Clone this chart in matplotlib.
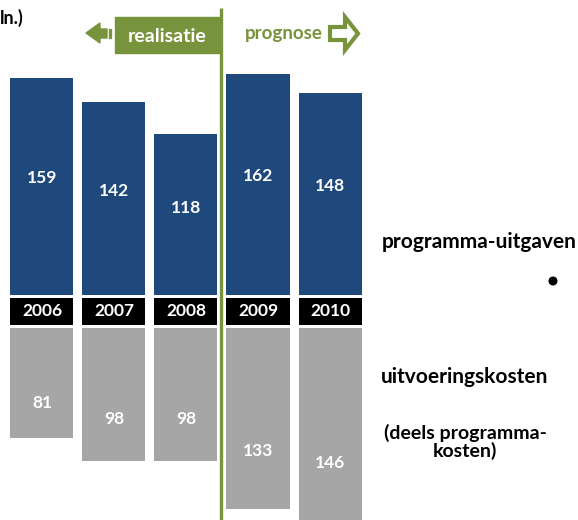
import matplotlib
matplotlib.use("Agg")
from matplotlib import pyplot as plt
from matplotlib.patches import Polygon, Circle, Rectangle

years = ["2006", "2007", "2008", "2009", "2010"]
programma_uitgaven = [159, 142, 118, 162, 148]
uitvoeringskosten = [81, 98, 98, 133, 146]

blue = "#1F497D"
grey = "#A6A6A6"
green = "#77933C"

plt.rcParams["font.family"] = ["Lato", "DejaVu Sans"]

fig = plt.figure(figsize=(5.78, 5.2), dpi=100)
ax = fig.add_axes([0, 0, 1, 1])
ax.set_xlim(-0.583, 7.444)
ax.set_ylim(-165.2, 216.6)
ax.axis("off")

x = range(len(years))
w = 0.875
gap_top = -2.2      # top of year strip
gap_bottom = -22.0  # bottom of year strip
grey_top = -24.2

ax.bar(x, programma_uitgaven, width=w, color=blue)
ax.bar(x, [gap_bottom - gap_top] * len(years), bottom=gap_top, width=w, color="black")
ax.bar(x, [-v for v in uitvoeringskosten], bottom=grey_top, width=w, color=grey)

for i, (y, p, u) in enumerate(zip(years, programma_uitgaven, uitvoeringskosten)):
    ax.text(i, (gap_top + gap_bottom) / 2, y, color="white", ha="center", va="center",
            fontsize=12.5, fontweight="bold")
    ax.text(i, p * 0.54, str(p), color="white", ha="center", va="center",
            fontsize=12.5, fontweight="bold")
    ax.text(i, grey_top - u * 0.68, str(u), color="white", ha="center", va="center",
            fontsize=12.5, fontweight="bold")

# overlay in pixel coordinates for the decorations
ov = fig.add_axes([0, 0, 1, 1])
ov.set_xlim(0, 578)
ov.set_ylim(520, 0)
ov.axis("off")
ov.patch.set_alpha(0)

ov.plot([221, 221], [8, 520], color=green, lw=2.4, solid_capstyle="butt")
ov.add_patch(Rectangle((115, 17), 105, 36, color=green))
ov.text(167, 36, "realisatie", color="white", ha="center", va="center",
        fontsize=14, fontweight="bold")

# left arrow with small bar
ov.add_patch(Polygon([(86, 33), (100, 23), (100, 29), (107, 29), (107, 38),
                      (100, 38), (100, 43)], closed=True, color=green))
ov.add_patch(Rectangle((108.5, 29), 2.5, 9, color=green))

ov.text(284, 34, "prognose", color=green, ha="center", va="center",
        fontsize=13.5, fontweight="bold")
ov.add_patch(Polygon([(330, 27), (345, 27), (345, 17), (358, 33.5), (345, 50),
                      (345, 40), (330, 40)], closed=True, facecolor="white",
                     edgecolor=green, lw=3, joinstyle="miter"))

ov.text(0, 18, "ln.)", color="black", ha="left", va="center",
        fontsize=13, fontweight="bold")

ov.text(479, 242, "programma-uitgaven", color="black", ha="center", va="center",
        fontsize=15, fontweight="bold")
ov.add_patch(Circle((553, 281), 3.8, color="black"))
ov.text(465, 377, "uitvoeringskosten", color="black", ha="center", va="center",
        fontsize=15, fontweight="bold")
ov.text(465, 442, "(deels programma-\nkosten)", color="black", ha="center", va="center",
        fontsize=14, fontweight="bold", linespacing=1.05)

fig.savefig("out.png", dpi=100)
